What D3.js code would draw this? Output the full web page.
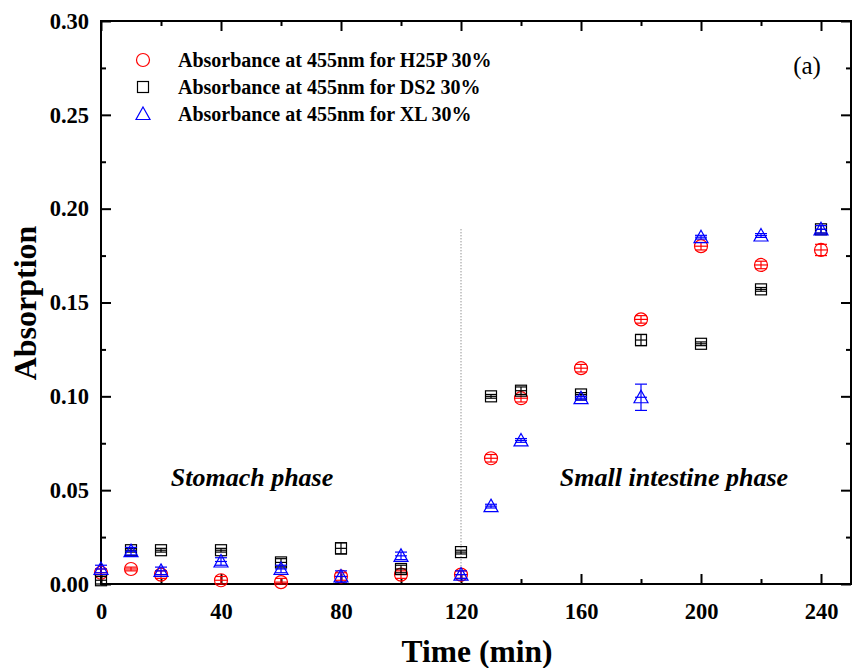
<!DOCTYPE html>
<html>
<head>
    <title></title>
    <meta charset="utf-8">
    <style>
        body { margin: 0; background: #fff; }
        text { font-family: "Liberation Serif", "Times New Roman", serif; }
    </style>
</head>
<body>
<script src="https://d3js.org/d3.v7.min.js"></script>
<script>
    // times (min) for every series
    var times = [0, 10, 20, 40, 60, 80, 100, 120, 130, 140, 160, 180, 200, 220, 240];

    // absorbance values
    var h25p = [0.006, 0.008, 0.005, 0.002, 0.001, 0.004, 0.005, 0.005, 0.067, 0.099, 0.115, 0.141, 0.180, 0.170, 0.178];
    var h25pErr = [0.002, 0.001, 0.002, 0.002, 0.002, 0.002, 0.002, 0.002, 0.002, 0.002, 0.002, 0.002, 0.002, 0.002, 0.003];
    var ds2 = [0.002, 0.018, 0.018, 0.018, 0.0115, 0.019, 0.008, 0.017, 0.100, 0.103, 0.101, 0.130, 0.128, 0.157, 0.189];
    var ds2Err = [0.002, 0.001, 0.001, 0.001, 0.002, 0.003, 0.002, 0.001, 0.001, 0.002, 0.001, 0.003, 0.001, 0.001, 0.002];
    var xl = [0.008, 0.0175, 0.007, 0.012, 0.008, 0.004, 0.015, 0.005, 0.0415, 0.0765, 0.099, 0.0995, 0.1848, 0.1857, 0.189];
    var xlErr = [0.002, 0.002, 0.002, 0.002, 0.002, 0.003, 0.002, 0.002, 0.001, 0.001, 0.001, 0.007, 0.001, 0.001, 0.002];

    var seriesNames = ['Absorbance at 455nm for H25P 30%', 'Absorbance at 455nm for DS2 30%', 'Absorbance at 455nm for XL 30%'];
    var seriesColors = ['#ff0000', '#000000', '#0000ff'];
    var seriesShapes = ['circle', 'square', 'triangle'];

    var xTicks = [0, 40, 80, 120, 160, 200, 240];
    var yTicks = [0.00, 0.05, 0.10, 0.15, 0.20, 0.25, 0.30];

    var W = 854, H = 668;
    var pLeft = 101, pRight = 851, pTop = 21, pBottom = 584;

    var svg = d3.select('body').append('svg')
        .attr('width', W)
        .attr('height', H);

    var x = d3.scaleLinear().domain([0, 250]).range([pLeft, pRight]);
    var y = d3.scaleLinear().domain([0, 0.30]).range([pBottom, pTop]);

    // ticks on all four sides, pointing inward
    var xMinor = d3.range(20, 250, 40);
    var yMinor = d3.range(0.025, 0.30, 0.05);

    function noDomain(g) { g.select('.domain').remove(); }

    svg.append('g').attr('transform', 'translate(0,' + pBottom + ')')
        .call(d3.axisBottom(x).tickValues(xTicks).tickSize(-10).tickPadding(19).tickFormat(d3.format('d')))
        .call(noDomain);
    svg.append('g').attr('transform', 'translate(0,' + pBottom + ')')
        .call(d3.axisBottom(x).tickValues(xMinor).tickSize(-5).tickFormat(''))
        .call(noDomain);
    svg.append('g').attr('transform', 'translate(0,' + pTop + ')')
        .call(d3.axisTop(x).tickValues(xTicks).tickSize(-10).tickFormat(''))
        .call(noDomain);
    svg.append('g').attr('transform', 'translate(0,' + pTop + ')')
        .call(d3.axisTop(x).tickValues(xMinor).tickSize(-5).tickFormat(''))
        .call(noDomain);

    svg.append('g').attr('transform', 'translate(' + pLeft + ',0)')
        .call(d3.axisLeft(y).tickValues(yTicks).tickSize(-10).tickPadding(12).tickFormat(d3.format('.2f')))
        .call(noDomain);
    svg.append('g').attr('transform', 'translate(' + pLeft + ',0)')
        .call(d3.axisLeft(y).tickValues(yMinor).tickSize(-5).tickFormat(''))
        .call(noDomain);
    svg.append('g').attr('transform', 'translate(' + pRight + ',0)')
        .call(d3.axisRight(y).tickValues(yTicks).tickSize(-10).tickFormat(''))
        .call(noDomain);
    svg.append('g').attr('transform', 'translate(' + pRight + ',0)')
        .call(d3.axisRight(y).tickValues(yMinor).tickSize(-5).tickFormat(''))
        .call(noDomain);

    svg.selectAll('.tick line').attr('stroke', '#000').attr('stroke-width', 2);
    svg.selectAll('.tick text')
        .style('font-family', '"Liberation Serif", serif')
        .style('font-size', '22.5px')
        .style('font-weight', 'bold')
        .attr('fill', '#000');

    // frame
    svg.append('rect')
        .attr('x', pLeft).attr('y', pTop)
        .attr('width', pRight - pLeft).attr('height', pBottom - pTop)
        .attr('fill', 'none').attr('stroke', '#000').attr('stroke-width', 2);

    // phase divider
    svg.append('line')
        .attr('x1', x(120)).attr('x2', x(120))
        .attr('y1', y(0.189)).attr('y2', y(0))
        .attr('stroke', '#666').attr('stroke-width', 1)
        .attr('stroke-dasharray', '1,2');

    function drawMarker(g, shape, color) {
        if (shape === 'circle') {
            g.append('circle').attr('r', 6.5);
        } else if (shape === 'square') {
            g.append('rect').attr('x', -5.5).attr('y', -5.5).attr('width', 11).attr('height', 11);
        } else {
            g.append('path').attr('d', 'M0,-7L7,5.5L-7,5.5Z');
        }
        g.selectAll('circle,rect,path')
            .attr('fill', 'none').attr('stroke', color).attr('stroke-width', 1.2);
    }

    var allSeries = [h25p, ds2, xl];
    var allErr = [h25pErr, ds2Err, xlErr];

    allSeries.forEach(function (vals, s) {
        var color = seriesColors[s];
        var pts = times.map(function (t, i) { return { t: t, v: vals[i], e: allErr[s][i] }; });
        var g = svg.append('g');

        var eb = g.selectAll('.err').data(pts).enter().append('g')
            .attr('stroke', color).attr('stroke-width', 1.2);
        eb.append('line')
            .attr('x1', function (d) { return x(d.t); })
            .attr('x2', function (d) { return x(d.t); })
            .attr('y1', function (d) { return y(Math.max(0, d.v - d.e)); })
            .attr('y2', function (d) { return y(d.v + d.e); });
        eb.append('line')
            .attr('x1', function (d) { return x(d.t) - 6; })
            .attr('x2', function (d) { return x(d.t) + 6; })
            .attr('y1', function (d) { return y(d.v + d.e); })
            .attr('y2', function (d) { return y(d.v + d.e); });
        eb.append('line')
            .attr('x1', function (d) { return x(d.t) - 6; })
            .attr('x2', function (d) { return x(d.t) + 6; })
            .attr('y1', function (d) { return y(Math.max(0, d.v - d.e)); })
            .attr('y2', function (d) { return y(Math.max(0, d.v - d.e)); });
        eb.append('line')
            .attr('x1', function (d) { return x(d.t) - 6; })
            .attr('x2', function (d) { return x(d.t) + 6; })
            .attr('y1', function (d) { return y(d.v); })
            .attr('y2', function (d) { return y(d.v); });

        g.selectAll('.pt').data(pts).enter().append('g')
            .attr('transform', function (d) { return 'translate(' + x(d.t) + ',' + y(d.v) + ')'; })
            .each(function () { drawMarker(d3.select(this), seriesShapes[s], color); });
    });

    // legend
    var legend = svg.append('g');
    seriesNames.forEach(function (name, i) {
        var row = legend.append('g').attr('transform', 'translate(143,' + (60 + i * 27) + ')');
        drawMarker(row, seriesShapes[i], seriesColors[i]);
        row.append('text')
            .attr('x', 35).attr('y', 7)
            .style('font-size', '20px').style('font-weight', 'bold')
            .text(name);
    });

    svg.append('text')
        .attr('x', 807).attr('y', 74)
        .attr('text-anchor', 'middle')
        .style('font-size', '25px')
        .text('(a)');

    svg.append('text')
        .attr('x', 252).attr('y', 486)
        .attr('text-anchor', 'middle')
        .style('font-size', '26px').style('font-weight', 'bold').style('font-style', 'italic')
        .text('Stomach phase');
    svg.append('text')
        .attr('x', 674).attr('y', 486)
        .attr('text-anchor', 'middle')
        .style('font-size', '26px').style('font-weight', 'bold').style('font-style', 'italic')
        .text('Small intestine phase');

    // axis titles
    svg.append('text')
        .attr('x', 477).attr('y', 662)
        .attr('text-anchor', 'middle')
        .style('font-size', '31.5px').style('font-weight', 'bold')
        .text('Time (min)');
    svg.append('text')
        .attr('transform', 'translate(36,303) rotate(-90)')
        .attr('text-anchor', 'middle')
        .style('font-size', '32px').style('font-weight', 'bold')
        .text('Absorption');
</script>
</body>
</html>
